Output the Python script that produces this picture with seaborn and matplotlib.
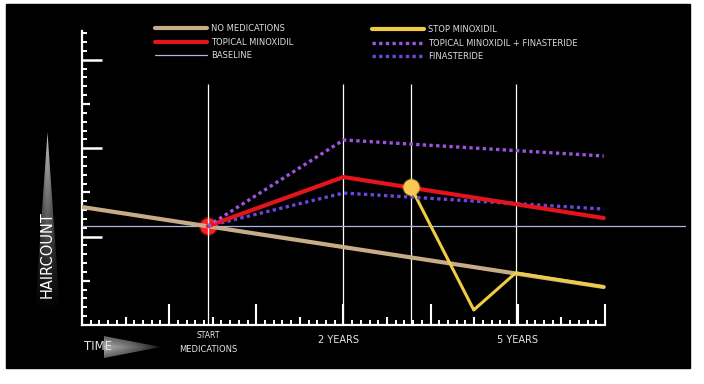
import numpy as np
import seaborn as sns
import matplotlib.pyplot as plt
from matplotlib.lines import Line2D
from matplotlib.patches import Polygon, Rectangle
from matplotlib.ticker import FixedLocator

# DATA  (x: one tall tick = 1 unit, y: one long tick = 1 unit)
start_x = 1.445
event_x = [1.445, 3.0, 3.773, 4.977]   # start, 2 years, stop minoxidil, 5 years
baseline_y = 1.12

x_none = [0.0, 5.986]
y_none = [1.335, 0.43]
x_minox = [1.445, 3.0, 5.986]
y_minox = [1.12, 1.674, 1.21]
x_combo = [1.445, 3.0, 5.986]
y_combo = [1.12, 2.093, 1.912]
x_fin = [1.445, 3.0, 5.986]
y_fin = [1.12, 1.493, 1.312]
x_stop = [3.773, 4.495, 4.977, 5.986]
y_stop = [1.561, 0.17, 0.59, 0.43]

time_labels = ["2 YEARS", "5 YEARS"]
time_label_x = [2.94, 5.0]

# colours
c_none = "#c8ab88"
c_minox = "#e3141c"
c_base = "#aab4e6"
c_stop = "#f0cc45"
c_combo = "#9b55e0"
c_fin = "#6b45dc"
dots = (0, (1, 1))

sns.set_theme(style="white")
plt.rcParams["font.family"] = ["DejaVu Sans"]

fig = plt.figure(figsize=(7.04, 3.84), dpi=100, facecolor="white")

# background / decoration layer in pixel coords
bg = fig.add_axes([0, 0, 1, 1], zorder=-1)
bg.set_xlim(0, 704)
bg.set_ylim(384, 0)
bg.axis("off")
bg.add_patch(Rectangle((6, 4), 684, 364, color="black"))

# gradient triangle behind HAIRCOUNT
ny, nx = 200, 40
tt = np.linspace(0, 1, ny)[:, None]
ss = np.abs(np.linspace(-1, 1, nx))[None, :]
grad = 0.75 * (1 - tt) ** 1.1 * (1 - 0.55 * ss)
im = bg.imshow(grad, cmap="gray", vmin=0, vmax=1, extent=(34, 61, 312, 132),
               origin="upper", aspect="auto", zorder=1)
tri = Polygon([(47.5, 132), (35, 312), (60, 312)], closed=True, transform=bg.transData)
im.set_clip_path(tri)

# gradient triangle next to TIME
ny, nx = 30, 120
ss = np.linspace(0, 1, nx)[None, :]
tt = np.abs(np.linspace(-1, 1, ny))[:, None]
grad2 = 0.7 * (1 - ss) ** 0.7 * (1 - 0.5 * tt)
im2 = bg.imshow(grad2, cmap="gray", vmin=0, vmax=1, extent=(104, 162, 359, 335),
                origin="upper", aspect="auto", zorder=1)
tri2 = Polygon([(104, 336), (104, 358), (161, 347)], closed=True, transform=bg.transData)
im2.set_clip_path(tri2)

bg.text(47.5, 255, "HAIRCOUNT", rotation=90, ha="center", va="center",
        color="white", fontsize=10.5)
bg.text(98, 347, "TIME", ha="center", va="center", color="#e6e6e6", fontsize=8.5)

# main chart
ax = fig.add_axes([82 / 704, 1 - 325 / 384, 604 / 704, 294 / 384])
ax.set_facecolor("none")
ax.set_xlim(0, 6.93)
ax.set_ylim(0, 3.326)

ax.vlines(event_x, 0, 2.726, color="white", lw=0.9, zorder=2)
ax.axhline(baseline_y, color=c_base, lw=0.9, zorder=2.6)

# start dot with soft edge
ax.scatter([start_x], [baseline_y], s=200, color="#ff1e1e", alpha=0.3, lw=0, zorder=1.7)
ax.scatter([start_x], [baseline_y], s=140, color="#ff1e1e", lw=0, zorder=1.8)

sns.lineplot(x=x_none, y=y_none, ax=ax, color=c_none, lw=3, zorder=3)
sns.lineplot(x=x_stop, y=y_stop, ax=ax, color=c_stop, lw=2.2, zorder=3.2)
sns.lineplot(x=x_fin, y=y_fin, ax=ax, color=c_fin, lw=2.4, linestyle=dots,
             dash_capstyle="butt", zorder=3.3)
sns.lineplot(x=x_minox, y=y_minox, ax=ax, color=c_minox, lw=3, zorder=3.4)
sns.lineplot(x=x_combo, y=y_combo, ax=ax, color=c_combo, lw=2.4, linestyle=dots,
             dash_capstyle="butt", zorder=3.5)

# stop minoxidil dot
ax.scatter([x_stop[0]], [y_stop[0]], s=175, color="#f8c850", alpha=0.3, lw=0, zorder=4)
ax.scatter([x_stop[0]], [y_stop[0]], s=135, color="#f8c850", lw=0, zorder=4.1)

# spines and ticks
for side in ["top", "right"]:
    ax.spines[side].set_visible(False)
for side in ["left", "bottom"]:
    ax.spines[side].set_color("white")
    ax.spines[side].set_linewidth(1.6)
ax.spines["bottom"].set_bounds(0, 6)

ax.xaxis.set_major_locator(FixedLocator([1, 2, 3, 4, 5, 6]))
ax.xaxis.set_minor_locator(FixedLocator(np.arange(0.1, 6.0, 0.1)))
ax.yaxis.set_major_locator(FixedLocator([1, 2, 3]))
ax.yaxis.set_minor_locator(FixedLocator(np.arange(0.1, 3.33, 0.1)))
ax.tick_params(axis="x", which="major", direction="in", length=15, width=1.5,
               colors="white", bottom=True, labelbottom=False)
ax.tick_params(axis="x", which="minor", direction="in", length=3.4, width=1.4,
               colors="white", bottom=True)
ax.tick_params(axis="y", which="major", direction="in", length=14.5, width=1.8,
               colors="white", left=True, labelleft=False)
ax.tick_params(axis="y", which="minor", direction="in", length=3.3, width=1.4,
               colors="white", left=True)

sec_x = ax.secondary_xaxis("bottom")
sec_x.set_xticks(np.arange(0.5, 6, 1.0))
sec_x.tick_params(direction="in", length=6, width=1.5, colors="white",
                  bottom=True, labelbottom=False)
sec_y = ax.secondary_yaxis("left")
sec_y.set_yticks(np.arange(0.5, 3.3, 1.0))
sec_y.tick_params(direction="in", length=6, width=1.6, colors="white",
                  left=True, labelleft=False)
for sec in [sec_x, sec_y]:
    for s in sec.spines.values():
        s.set_visible(False)

# time labels under the axis
xt = ax.get_xaxis_transform()
ax.annotate("START", xy=(start_x, 0), xycoords=xt, xytext=(0, -7.5),
            textcoords="offset points", ha="center", va="center",
            color="#e6e6e6", fontsize=5.5)
ax.annotate("MEDICATIONS", xy=(start_x, 0), xycoords=xt, xytext=(0, -18),
            textcoords="offset points", ha="center", va="center",
            color="#e6e6e6", fontsize=6)
for lab, xx in zip(time_labels, time_label_x):
    ax.annotate(lab, xy=(xx, 0), xycoords=xt, xytext=(0, -11),
                textcoords="offset points", ha="center", va="center",
                color="#e6e6e6", fontsize=7)

# legends
h1 = [Line2D([], [], color=c_none, lw=3),
      Line2D([], [], color=c_minox, lw=3),
      Line2D([], [], color=c_base, lw=0.9)]
l1 = ["NO MEDICATIONS", "TOPICAL MINOXIDIL", "BASELINE"]
h2 = [Line2D([], [], color=c_stop, lw=3),
      Line2D([], [], color=c_combo, lw=2.4, linestyle=dots, dash_capstyle="butt"),
      Line2D([], [], color=c_fin, lw=2.4, linestyle=dots, dash_capstyle="butt")]
l2 = ["STOP MINOXIDIL", "TOPICAL MINOXIDIL + FINASTERIDE", "FINASTERIDE"]

kw = dict(loc="upper left", frameon=False, fontsize=6, labelcolor="#dcdcdc",
          handlelength=6.2, handletextpad=0.5, labelspacing=0.55,
          borderpad=0, borderaxespad=0)
fig.legend(h1, l1, bbox_to_anchor=(155 / 704, 1 - 24 / 384), **kw)
fig.legend(h2, l2, bbox_to_anchor=(372 / 704, 1 - 25 / 384), **kw)

fig.savefig("out.png", dpi=100, facecolor="white")
